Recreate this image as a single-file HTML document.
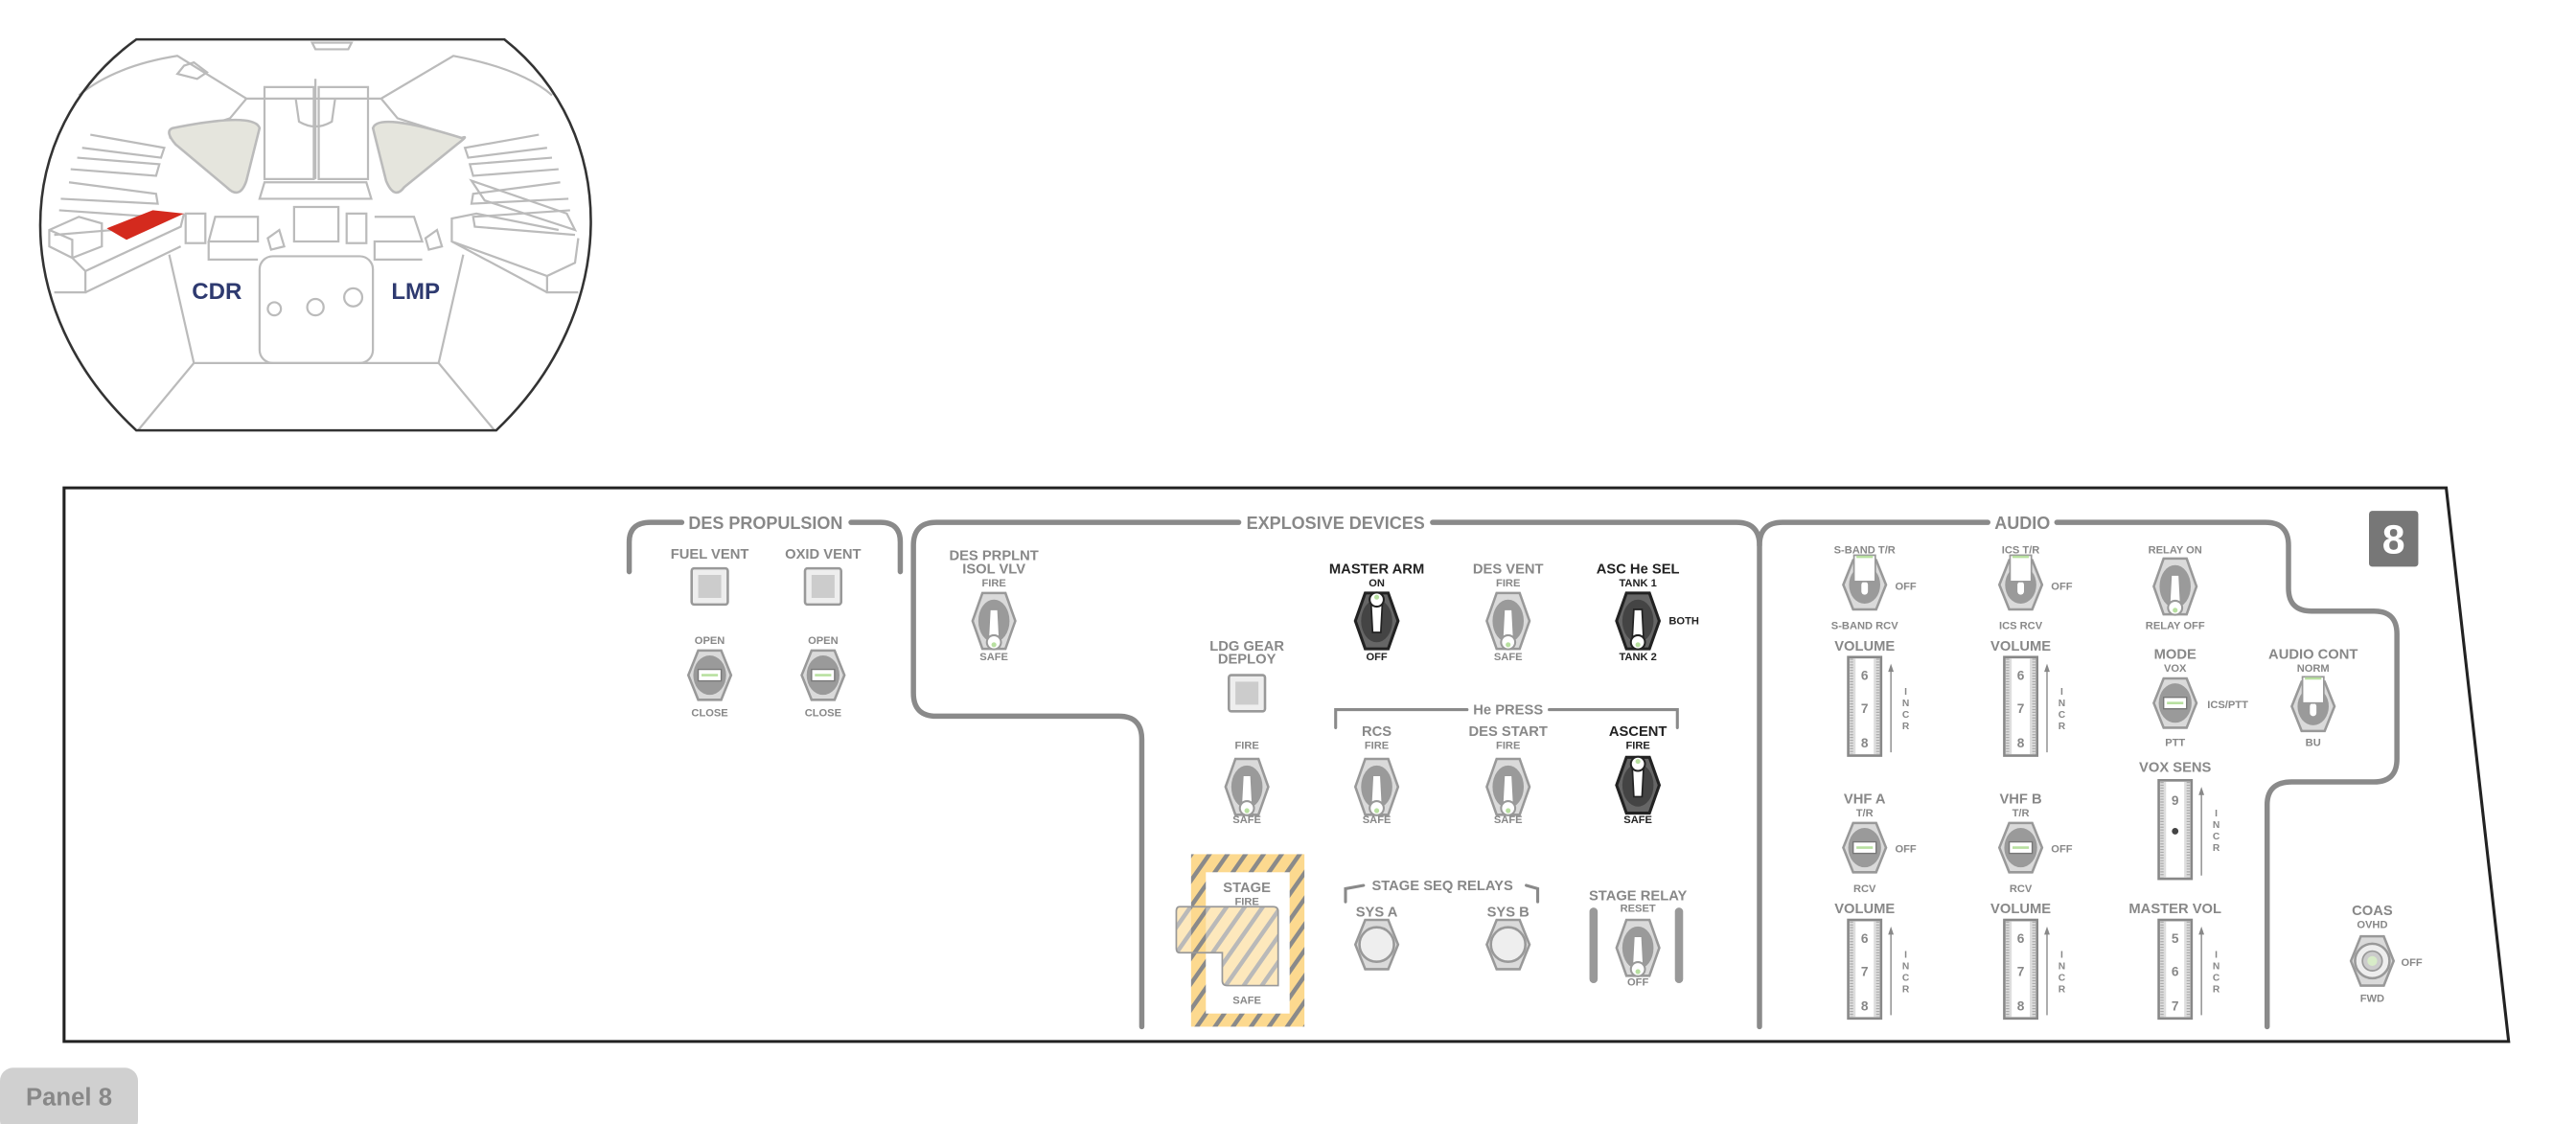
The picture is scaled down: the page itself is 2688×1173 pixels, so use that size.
<!DOCTYPE html>
<html><head><meta charset="utf-8"><style>
html,body{margin:0;padding:0;background:#fff;}
svg{display:block;}
text{font-family:"Liberation Sans Narrow","Liberation Sans",sans-serif;font-weight:bold;fill:#888;text-anchor:middle;}
.k{fill:#222;}
.s{font-size:6.5px;}
.m{font-size:8.6px;}
.h{font-size:10.5px;}
</style></head><body>
<svg width="2688" height="1173" viewBox="0 0 1568 684.25" xmlns="http://www.w3.org/2000/svg">
<defs>
<pattern id="hz" width="9" height="9" patternUnits="userSpaceOnUse" patternTransform="rotate(35)">
<rect width="9" height="9" fill="#fcd98f"/><rect width="2.6" height="9" fill="#8a8a8a"/></pattern>
<g id="tg"><polygon points="-7,-17 7,-17 13,0 7,17 -7,17 -13,0" fill="#dadada" stroke="#999" stroke-width="1.5"/><ellipse rx="9.5" ry="13" fill="#9a9a9a"/><path d="M-2.5,-7 L2.5,-7 L3.5,12 L-3.5,12Z" fill="#fff" stroke="#999" stroke-width="1"/><circle cy="13" r="4.3" fill="#fff" stroke="#999" stroke-width="1.2"/><circle cy="14.5" r="1.5" fill="#b8e0a0"/></g>
<g id="tgd"><polygon points="-7,-17 7,-17 13,0 7,17 -7,17 -13,0" fill="#666" stroke="#222" stroke-width="1.8"/><ellipse rx="9.5" ry="13" fill="#444"/><path d="M-2.5,-7 L2.5,-7 L3.5,12 L-3.5,12Z" fill="#fff" stroke="#222" stroke-width="1"/><circle cy="13" r="4.3" fill="#fff" stroke="#222" stroke-width="1.2"/><circle cy="14.5" r="1.5" fill="#b8e0a0"/></g>
<g id="tf"><polygon points="-7,-15 7,-15 13,0 7,15 -7,15 -13,0" fill="#dadada" stroke="#999" stroke-width="1.5"/><ellipse rx="9.5" ry="11.5" fill="#9a9a9a"/><rect x="-2" y="-2" width="4" height="8" rx="2" fill="#fff"/><rect x="-6.5" y="-18" width="13" height="16" fill="#fff" stroke="#999" stroke-width="1"/><line x1="-5" y1="-17" x2="5" y2="-17" stroke="#b8e0a0" stroke-width="1.5"/></g>
<g id="rt"><polygon points="-7,-15 7,-15 13,0 7,15 -7,15 -13,0" fill="#dadada" stroke="#999" stroke-width="1.5"/><ellipse rx="10" ry="12" fill="#9a9a9a"/><rect x="-7" y="-3.5" width="14" height="7" fill="#fff" stroke="#777" stroke-width="0.8"/><line x1="-5" y1="0" x2="5" y2="0" stroke="#b8e0a0" stroke-width="1.5"/></g>
<g id="rb"><polygon points="-7,-15 7,-15 13,0 7,15 -7,15 -13,0" fill="#dadada" stroke="#999" stroke-width="1.5"/><circle r="10.5" fill="#eee" stroke="#999" stroke-width="1.5"/></g>
<g id="pb"><rect x="-11" y="-11" width="22" height="22" rx="1.5" fill="#eee" stroke="#999" stroke-width="1.5"/><rect x="-7" y="-7" width="14" height="14" fill="#ccc"/></g>
<g id="tw"><rect x="-10" y="0" width="20" height="60" fill="#ddd" stroke="#888" stroke-width="1.5"/><rect x="-5.5" y="1" width="11" height="58" fill="#fff"/><line x1="-8" y1="1" x2="-8" y2="59" stroke="#aaa" stroke-width="2" stroke-dasharray="0.7,1"/><line x1="8" y1="1" x2="8" y2="59" stroke="#aaa" stroke-width="2" stroke-dasharray="0.7,1"/><line x1="16" y1="58" x2="16" y2="8" stroke="#888" stroke-width="0.8"/><path d="M14.3,9 L16,4 L17.7,9Z" fill="#888"/></g>
</defs>

<!-- cockpit -->
<g fill="none" stroke="#bbb" stroke-width="1.3">
<path d="M48,58 Q70,40 108,34 L150,60 L232,60 L276,34 Q318,42 336,58"/>
<path d="M150,60 L140,72 L103,84 M232,60 L242,72 L280,84"/>
<path d="M112,40 L118,38 L126,44 L120,48 L108,45Z" />
<path d="M190,26 L214,26 L212,30 L192,30Z"/>
<path d="M55,82 L100,90 L98,96 L50,90 M47,96 L97,100 L95,107 L43,103 M42,111 L95,118 L96,124 L37,121 M36,128 L94,132 L93,138 L33,143"/>
<path d="M328,82 L283,90 L285,96 L333,90 M336,96 L286,100 L288,107 L340,103 M341,111 L288,118 L287,124 L346,121 M347,128 L288,132 L289,138 L350,143"/>
<rect x="161" y="53" width="30" height="56"/><rect x="194" y="53" width="30" height="56"/>
<path d="M158,121 L226,121 L223,111 L161,111Z"/>
<path d="M180,60 L182,74 Q192,80 202,74 L204,60 M192,48 L192,109"/>
<rect x="158" y="156" width="69" height="65" rx="8"/>
<path d="M103,155 L118,221 L267,221 L282,155 M118,221 L84,262 M267,221 L301,262"/>
<path d="M30,140 L48,132 L62,136 L62,150 L44,157 L30,150Z M44,157 L44,146 L30,140"/>
<path d="M44,157 L52,165 L110,138 L112,130 M52,165 L52,178 L33,178 M52,178 L110,150"/>
<path d="M340,140 L290,130 L275,133 L275,147 L333,168 L350,160 L352,145 M333,168 L333,178 L352,178 M275,147 L333,178"/>
<path d="M287,110 L345,130 L350,140 L295,122Z"/>
<rect x="113" y="130" width="12" height="18"/><rect x="211" y="130" width="12" height="18"/>
<path d="M131,132 L157,132 L157,147 L127,147Z M127,147 L127,158 L157,158 M228,132 L252,132 L257,147 L228,147 L228,158 L257,158"/>
<rect x="179" y="126" width="27" height="21"/>
<path d="M163,145 L170,140 L173,150 L165,152Z M259,145 L266,140 L269,150 L261,152Z"/>
<circle cx="167" cy="188" r="4"/><circle cx="192" cy="187" r="5"/><circle cx="215" cy="181" r="5.5"/>
</g>
<path d="M105,78 Q155,68 158,78 L150,110 Q146,122 138,114 L107,88 Q100,80 105,78Z" fill="#e5e5dd" stroke="#bbb" stroke-width="1.5"/>
<path d="M281,84 Q230,68 227,78 L235,110 Q240,122 246,114 L278,88 Q286,82 281,84Z" fill="#e5e5dd" stroke="#bbb" stroke-width="1.5"/>
<polygon points="65,139 93,128 112,130 77,146" fill="#d42a1e"/>
<path d="M83,24 L307,24 C378,80 378,190 302,262 L83,262 C5,190 5,80 83,24Z" fill="none" stroke="#333" stroke-width="1.5"/>
<text x="132" y="182" style="font-size:14px;fill:#2e3a70;font-family:'Liberation Sans',sans-serif">CDR</text>
<text x="253" y="182" style="font-size:14px;fill:#2e3a70;font-family:'Liberation Sans',sans-serif">LMP</text>

<!-- panel -->
<polygon points="39,297 1489,297 1527,634 39,634" fill="#fff" stroke="#222" stroke-width="1.8"/>
<rect x="0" y="650" width="84" height="40" rx="8" fill="#d0d0d0"/>
<text x="42" y="673" style="font-size:15px;font-family:'Liberation Sans',sans-serif" fill="#888">Panel 8</text>

<g fill="none" stroke="#8a8a8a" stroke-width="3.2" stroke-linecap="round">
<path d="M383,348 L383,330 Q383,318 396,318 L415,318 M518,318 L536,318 Q548,318 548,330 L548,348"/>
<path d="M695,625 L695,450 Q695,436 681,436 L570,436 Q556,436 556,422 L556,332 Q556,318 570,318 L754,318 M872,318 L1057,318 Q1071,318 1071,332 L1071,625"/>
<path d="M1071,332 Q1071,318 1085,318 L1210,318 M1252,318 L1379,318 Q1393,318 1393,332 L1393,358 Q1393,372 1407,372 L1445,372 Q1459,372 1459,386 L1459,462 Q1459,476 1445,476 L1395,476 Q1380,476 1380,490 L1380,625"/>
<path d="M813,443 L813,432 L893,432 M943,432 L1021,432 L1021,443" stroke-width="1.8"/>
<path d="M819,549 L819,541 L830,539 M929,539 L936,541 L936,549" stroke-width="1.8"/>
<path d="M970,555 L970,596 M1022,555 L1022,596" stroke-width="5" stroke="#999"/>
</g>
<text x="466" y="322" class="h">DES PROPULSION</text>
<text x="813" y="322" class="h">EXPLOSIVE DEVICES</text>
<text x="1231" y="322" class="h">AUDIO</text>
<text x="918" y="435" class="m">He PRESS</text>
<text x="878" y="542" class="m">STAGE SEQ RELAYS</text>
<rect x="1442" y="311" width="30" height="34" rx="2" fill="#777"/>
<text x="1457" y="337" style="font-size:25px;fill:#fff;font-family:'Liberation Sans',sans-serif">8</text>

<!-- DES PROPULSION -->
<text x="432" y="340" class="m">FUEL VENT</text><text x="501" y="340" class="m">OXID VENT</text>
<use href="#pb" x="432" y="357"/><use href="#pb" x="501" y="357"/>
<text x="432" y="392" class="s">OPEN</text><text x="501" y="392" class="s">OPEN</text>
<use href="#rt" x="432" y="411"/><use href="#rt" x="501" y="411"/>
<text x="432" y="436" class="s">CLOSE</text><text x="501" y="436" class="s">CLOSE</text>

<!-- EXPLOSIVE -->
<text x="605" y="341" class="m">DES PRPLNT</text><text x="605" y="349" class="m">ISOL VLV</text>
<text x="605" y="357" class="s">FIRE</text><use href="#tg" x="605" y="378"/><text x="605" y="402" class="s">SAFE</text>
<text x="838" y="349" class="m k">MASTER ARM</text><text x="838" y="357" class="s k">ON</text>
<use href="#tgd" transform="translate(838,378) scale(1,-1)"/><text x="838" y="402" class="s k">OFF</text>
<text x="918" y="349" class="m">DES VENT</text><text x="918" y="357" class="s">FIRE</text>
<use href="#tg" x="918" y="378"/><text x="918" y="402" class="s">SAFE</text>
<text x="997" y="349" class="m k">ASC He SEL</text><text x="997" y="357" class="s k">TANK 1</text>
<use href="#tgd" x="997" y="378"/><text x="1025" y="380" class="s k">BOTH</text><text x="997" y="402" class="s k">TANK 2</text>
<text x="759" y="396" class="m">LDG GEAR</text><text x="759" y="404" class="m">DEPLOY</text>
<use href="#pb" x="759" y="422"/>
<text x="759" y="456" class="s">FIRE</text><use href="#tg" x="759" y="479"/><text x="759" y="501" class="s">SAFE</text>
<text x="838" y="448" class="m">RCS</text><text x="838" y="456" class="s">FIRE</text><use href="#tg" x="838" y="479"/><text x="838" y="501" class="s">SAFE</text>
<text x="918" y="448" class="m">DES START</text><text x="918" y="456" class="s">FIRE</text><use href="#tg" x="918" y="479"/><text x="918" y="501" class="s">SAFE</text>
<text x="997" y="448" class="m k">ASCENT</text><text x="997" y="456" class="s k">FIRE</text>
<use href="#tgd" transform="translate(997,478) scale(1,-1)"/><text x="997" y="501" class="s k">SAFE</text>

<rect x="725" y="520" width="69" height="105" fill="url(#hz)"/>
<rect x="734" y="531" width="51" height="86" fill="#fff"/>
<text x="759" y="543" class="m">STAGE</text><text x="759" y="551" class="s">FIRE</text>
<text x="759" y="611" class="s">SAFE</text>
<path d="M718,552 L775,552 Q778,552 778,555 L778,600 L747,600 Q744,600 744,597 L744,580 L718,580 Q716,580 716,577 L716,555 Q716,552 718,552Z" fill="url(#hz)" fill-opacity="0.6" stroke="#999" stroke-width="1"/>
<text x="838" y="558" class="m">SYS A</text><text x="918" y="558" class="m">SYS B</text>
<use href="#rb" x="838" y="575"/><use href="#rb" x="918" y="575"/>
<text x="997" y="548" class="m">STAGE RELAY</text><text x="997" y="555" class="s">RESET</text>
<use href="#tg" x="997" y="577"/><text x="997" y="600" class="s">OFF</text>

<!-- AUDIO -->
<text x="1135" y="337" class="s">S-BAND T/R</text><use href="#tf" x="1135" y="356"/><text x="1160" y="359" class="s">OFF</text>
<text x="1135" y="383" class="s">S-BAND RCV</text>
<text x="1230" y="337" class="s">ICS T/R</text><use href="#tf" x="1230" y="356"/><text x="1255" y="359" class="s">OFF</text>
<text x="1230" y="383" class="s">ICS RCV</text>
<text x="1324" y="337" class="s">RELAY ON</text><use href="#tg" x="1324" y="357"/><text x="1324" y="383" class="s">RELAY OFF</text>
<text x="1135" y="396" class="m">VOLUME</text><text x="1230" y="396" class="m">VOLUME</text>
<use href="#tw" x="1135" y="400"/><use href="#tw" x="1230" y="400"/>
<g style="font-size:8px"><text x="1135" y="414">6</text><text x="1135" y="434">7</text><text x="1135" y="455">8</text>
<text x="1230" y="414">6</text><text x="1230" y="434">7</text><text x="1230" y="455">8</text></g>
<g style="font-size:6px;font-weight:normal"><text x="1160" y="423">I</text><text x="1160" y="430">N</text><text x="1160" y="437">C</text><text x="1160" y="444">R</text>
<text x="1255" y="423">I</text><text x="1255" y="430">N</text><text x="1255" y="437">C</text><text x="1255" y="444">R</text></g>
<text x="1324" y="401" class="m">MODE</text><text x="1324" y="409" class="s">VOX</text>
<use href="#rt" x="1324" y="428"/><text x="1356" y="431" class="s">ICS/PTT</text><text x="1324" y="454" class="s">PTT</text>
<text x="1408" y="401" class="m">AUDIO CONT</text><text x="1408" y="409" class="s">NORM</text>
<use href="#tf" x="1408" y="430"/><text x="1408" y="454" class="s">BU</text>
<text x="1324" y="470" class="m">VOX SENS</text><use href="#tw" x="1324" y="475"/>
<text x="1324" y="490" style="font-size:8px">9</text><circle cx="1324" cy="506" r="2" fill="#444"/>
<g style="font-size:6px;font-weight:normal"><text x="1349" y="497">I</text><text x="1349" y="504">N</text><text x="1349" y="511">C</text><text x="1349" y="518">R</text></g>
<text x="1135" y="489" class="m">VHF A</text><text x="1135" y="497" class="s">T/R</text>
<use href="#rt" x="1135" y="516"/><text x="1160" y="519" class="s">OFF</text><text x="1135" y="543" class="s">RCV</text>
<text x="1230" y="489" class="m">VHF B</text><text x="1230" y="497" class="s">T/R</text>
<use href="#rt" x="1230" y="516"/><text x="1255" y="519" class="s">OFF</text><text x="1230" y="543" class="s">RCV</text>
<text x="1135" y="556" class="m">VOLUME</text><text x="1230" y="556" class="m">VOLUME</text><text x="1324" y="556" class="m">MASTER VOL</text>
<use href="#tw" x="1135" y="560"/><use href="#tw" x="1230" y="560"/><use href="#tw" x="1324" y="560"/>
<g style="font-size:8px"><text x="1135" y="574">6</text><text x="1135" y="594">7</text><text x="1135" y="615">8</text>
<text x="1230" y="574">6</text><text x="1230" y="594">7</text><text x="1230" y="615">8</text>
<text x="1324" y="574">5</text><text x="1324" y="594">6</text><text x="1324" y="615">7</text></g>
<g style="font-size:6px;font-weight:normal"><text x="1160" y="583">I</text><text x="1160" y="590">N</text><text x="1160" y="597">C</text><text x="1160" y="604">R</text>
<text x="1255" y="583">I</text><text x="1255" y="590">N</text><text x="1255" y="597">C</text><text x="1255" y="604">R</text>
<text x="1349" y="583">I</text><text x="1349" y="590">N</text><text x="1349" y="597">C</text><text x="1349" y="604">R</text></g>
<text x="1444" y="557" class="m">COAS</text><text x="1444" y="565" class="s">OVHD</text>
<use href="#rb" x="1444" y="585"/><circle cx="1444" cy="585" r="6" fill="#ccc" stroke="#999"/><circle cx="1444" cy="585" r="3" fill="#d8ecc8"/>
<text x="1468" y="588" class="s">OFF</text><text x="1444" y="610" class="s">FWD</text>
</svg>
</body></html>
